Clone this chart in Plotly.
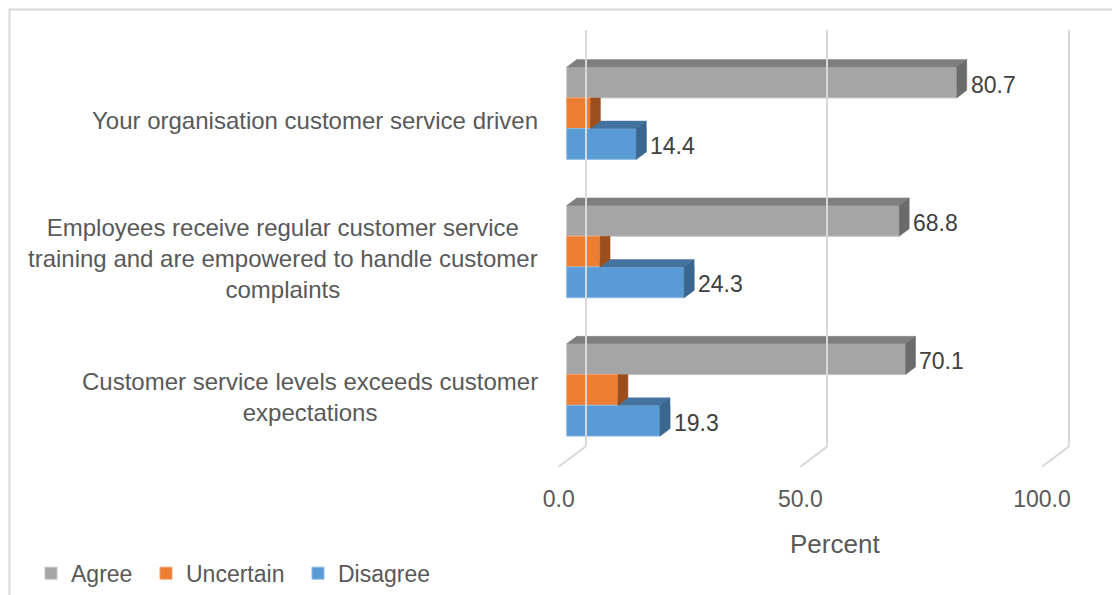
import plotly.graph_objects as go

# ---- data ----
categories = [
    "Your organisation customer service driven",
    "Employees receive regular customer service<br>training and are empowered to handle customer<br>complaints",
    "Customer service levels exceeds customer<br>expectations",
]
series_names = ["Agree", "Uncertain", "Disagree"]
agree = [80.7, 68.8, 70.1]
uncertain = [4.9, 6.9, 10.6]
disagree = [14.4, 24.3, 19.3]
labelled_series = ["Agree", "Disagree"]
tick_values = [0, 50, 100]
tick_labels = ["0.0", "50.0", "100.0"]
axis_title = "Percent"

# ---- styling / geometry ----
W, H = 1112, 595
PPU = 4.833            # pixels per percent
X0 = 566.7             # pixel of 0 % on the front plane
CAT0, CAT_STEP = 114.6, 140.0   # pixel of first category centre, spacing
BAR_W = 2 / 9          # bar thickness in category units (gap width 50 %)
DEPTH_X, DEPTH_Y = 10.0, 7.6    # 3-D extrusion in pixels
DX, DY = DEPTH_X / PPU, DEPTH_Y / CAT_STEP
WALL_DX = 19.0         # back wall offset (px)
FLOOR_DX, FLOOR_DY = 27, 20.6
GRID_TOP, GRID_BOTTOM = 30.0, 451.7
TEXT = "#595959"
FONT = "Liberation Sans, Arial, sans-serif"

colors = {
    "Agree": ("#a5a5a5", "#7f7f7f", "#6b6b6b", "#c4c4c4"),
    "Uncertain": ("#ed7d31", "#b5602a", "#9c4f1c", "#f3a36e"),
    "Disagree": ("#5b9bd5", "#44739f", "#3b6690", "#8dbbe4"),
}
values = {"Agree": agree, "Uncertain": uncertain, "Disagree": disagree}
n_cat = len(categories)
cat_pos = list(range(n_cat))


def clip(poly, axis, bound):
    """Keep the part of a convex polygon with coordinate[axis] >= bound."""
    out = []
    for i in range(len(poly)):
        p, q = poly[i], poly[(i + 1) % len(poly)]
        pin, qin = p[axis] >= bound, q[axis] >= bound
        if pin:
            out.append(p)
        if pin != qin:
            t = (bound - p[axis]) / (q[axis] - p[axis])
            out.append((p[0] + t * (q[0] - p[0]), p[1] + t * (q[1] - p[1])))
    return out


def area(poly):
    if len(poly) < 3:
        return 0.0
    s = 0.0
    for i in range(len(poly)):
        x1, y1 = poly[i]
        x2, y2 = poly[(i + 1) % len(poly)]
        s += x1 * y2 - x2 * y1
    return abs(s) / 2


def visible(poly, above_val, top_edge):
    """Part of a face not hidden behind the front of the bar above it."""
    if above_val is None:
        return [poly]
    parts = [clip(poly, 0, above_val), clip(poly, 1, top_edge)]
    return [p for p in parts if area(p) > 1e-9]


def to_xy(polys):
    xs, ys = [], []
    for p in polys:
        xs += [pt[0] for pt in p] + [p[0][0], None]
        ys += [pt[1] for pt in p] + [p[0][1], None]
    return xs, ys


fig = go.Figure()

# front faces
legend_ids = ["legend", "legend2", "legend3"]
for i, name in enumerate(series_names):
    front, _, _, edge = colors[name]
    fig.add_trace(go.Bar(
        x=values[name], y=cat_pos, orientation="h", name=name,
        width=BAR_W, offset=(i - 1.5) * BAR_W,
        marker=dict(color=front, line=dict(color=edge, width=1)),
        legend=legend_ids[i], hoverinfo="x+name",
    ))

# top and side faces, drawn from the lowest series upward
for i in reversed(range(len(series_names))):
    name = series_names[i]
    _, top_c, side_c, _ = colors[name]
    tops, sides = [], []
    for k in range(n_cat):
        v = values[name][k]
        yt = k + (i - 1.5) * BAR_W
        yb = yt + BAR_W
        above = values[series_names[i - 1]][k] if i > 0 else None
        top = [(0, yt), (v, yt), (v + DX, yt - DY), (DX, yt - DY)]
        side = [(v, yt), (v, yb), (v + DX, yb - DY), (v + DX, yt - DY)]
        tops += visible(top, above, yt)
        sides += visible(side, above, yt)
    for polys, col in ((tops, top_c), (sides, side_c)):
        if not polys:
            continue
        xs, ys = to_xy(polys)
        fig.add_trace(go.Scatter(
            x=xs, y=ys, mode="lines", fill="toself", fillcolor=col,
            line=dict(color=col, width=0.5), showlegend=False,
            hoverinfo="skip",
        ))

# value labels
for i, name in enumerate(series_names):
    if name not in labelled_series:
        continue
    for k in range(n_cat):
        v = values[name][k]
        fig.add_annotation(
            x=v, y=k + (i - 1) * BAR_W, xref="x", yref="y",
            text=f"{v:.1f}", showarrow=False, xanchor="left", yanchor="middle",
            xshift=12, yshift=-2, font=dict(size=23, color="#404040", family=FONT),
        )

# category labels
for k, cat in enumerate(categories):
    fig.add_annotation(
        x=0, y=k, xref="x", yref="y", text=cat, showarrow=False,
        xanchor="right", yanchor="middle", align="center",
        xshift=-27, yshift=-7, font=dict(size=24, color=TEXT, family=FONT),
    )

# value-axis title
fig.add_annotation(
    x=834.5 / W, y=1 - 550 / H, xref="paper", yref="paper", text=axis_title,
    showarrow=False, xanchor="center", yanchor="middle",
    font=dict(size=26, color=TEXT, family=FONT),
)

# floor edges under each gridline
for t in tick_values:
    fig.add_shape(
        type="line", xref="x2", yref="paper", xsizemode="pixel", xanchor=t,
        x0=0, x1=-FLOOR_DX, y0=1 - GRID_BOTTOM / H,
        y1=1 - (GRID_BOTTOM + FLOOR_DY) / H,
        line=dict(color="#d9d9d9", width=2),
    )

# chart frame
fig.add_shape(type="rect", xref="paper", yref="paper",
              x0=9.5 / W, x1=1.05, y0=-0.05, y1=1 - 9.5 / H,
              line=dict(color="#d9d9d9", width=2), fillcolor="rgba(0,0,0,0)")

wall0 = X0 + WALL_DX
fig.update_layout(
    width=W, height=H, margin=dict(l=0, r=0, t=0, b=0),
    paper_bgcolor="white", plot_bgcolor="rgba(0,0,0,0)",
    barmode="overlay", font=dict(family=FONT, color=TEXT),
    xaxis=dict(range=[-X0 / PPU, (W - X0) / PPU], visible=False, fixedrange=True),
    yaxis=dict(range=[(H - CAT0) / CAT_STEP, -CAT0 / CAT_STEP], visible=False, fixedrange=True),
    # back-wall gridlines; labels sit at the front edge of the floor
    xaxis2=dict(anchor="y2", domain=[0, 1], range=[-wall0 / PPU, (W - wall0) / PPU],
                tickvals=tick_values, ticktext=tick_labels, ticks="",
                showticklabels=True, ticklabelshift=-FLOOR_DX, ticklabelstandoff=37,
                tickfont=dict(size=23, color=TEXT, family=FONT),
                showgrid=True, gridcolor="#d9d9d9", gridwidth=2,
                zeroline=False, showline=False, fixedrange=True),
    yaxis2=dict(anchor="x2", domain=[1 - GRID_BOTTOM / H, 1 - GRID_TOP / H],
                range=[0, 1], visible=False, fixedrange=True),
    showlegend=True,
)

legend_x = [31, 146, 298]
for lid, lx in zip(legend_ids, legend_x):
    fig.update_layout({lid: dict(
        orientation="h", x=lx / W, xanchor="left", y=1 - 580 / H, yanchor="middle",
        bgcolor="rgba(0,0,0,0)", font=dict(size=23, color=TEXT, family=FONT),
        itemclick=False, itemdoubleclick=False,
    )})

fig.write_html("out.html")
